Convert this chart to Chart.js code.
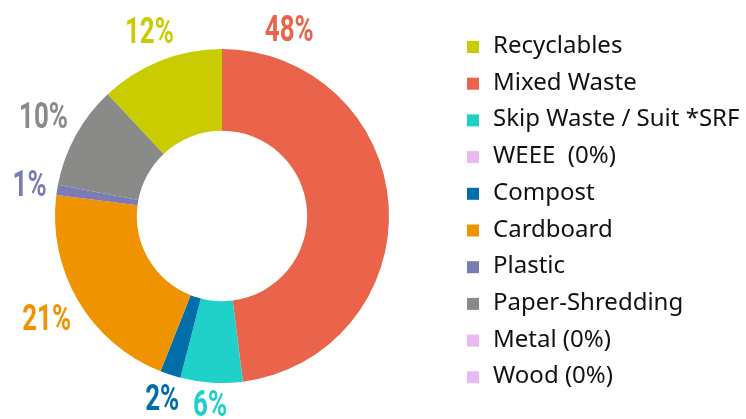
<!DOCTYPE html>
<html>
<head>
<meta charset="utf-8">
<script src="https://cdn.jsdelivr.net/npm/chart.js@4.4.1/dist/chart.umd.min.js"></script>
<style>
  html, body { margin: 0; padding: 0; background: #ffffff; }
  #dechets { display: block; }
</style>
</head>
<body>
<canvas id="dechets" width="746" height="419"></canvas>
<script>
// categories, values (%) and colours, in legend order
const categories = ["Recyclables", "Mixed Waste", "Skip Waste / Suit *SRF", "WEEE  (0%)", "Compost",
  "Cardboard", "Plastic", "Paper-Shredding", "Metal (0%)", "Wood (0%)"];
const pourcentages = [12, 48, 6, 0, 2, 21, 1, 10, 0, 0];
const couleurs = ["#c9cc00", "#e9644a", "#1fd1c8", "#e8b9f2", "#006ea8",
  "#f09300", "#7a7db3", "#8a8a88", "#e8b9f2", "#e8b9f2"];

// etiquettes des pourcentages autour de l'anneau
const etiquettes = {
  id: "etiquettes",
  afterDatasetsDraw(chart, args, opts) {
    const ctx = chart.ctx;
    const arcs = chart.getDatasetMeta(0).data;
    const valeurs = chart.data.datasets[0].data;
    ctx.save();
    ctx.font = "bold 36px Roboto";
    ctx.textAlign = "center";
    ctx.textBaseline = "middle";
    arcs.forEach((arc, i) => {
      if (!valeurs[i]) return;
      const texte = valeurs[i] + "%";
      const w = ctx.measureText(texte).width * opts.echelle;
      const h = 26;
      let angle = (arc.startAngle + arc.endAngle) / 2;
      if (opts.angles[chart.data.labels[i]] != undefined) {
        angle = opts.angles[chart.data.labels[i]] * Math.PI / 180 - Math.PI / 2;
      }
      const r = arc.outerRadius + 9 + Math.abs(Math.cos(angle)) * w / 2 + Math.abs(Math.sin(angle)) * h / 2;
      const x = arc.x + Math.cos(angle) * r;
      const y = arc.y + Math.sin(angle) * r;
      ctx.fillStyle = couleurs[i];
      ctx.save();
      ctx.translate(x, y + 1);
      ctx.scale(opts.echelle, 1);
      ctx.fillText(texte, 0, 0);
      ctx.restore();
    });
    ctx.restore();
  }
};

// legende dessinee a droite
const legende = {
  id: "legende",
  afterDraw(chart, args, opts) {
    const ctx = chart.ctx;
    ctx.save();
    ctx.font = "24px 'Noto Sans'";
    ctx.textBaseline = "alphabetic";
    ctx.textAlign = "left";
    chart.data.labels.forEach((nom, i) => {
      const base = opts.y + i * opts.pas;
      ctx.fillStyle = couleurs[i];
      ctx.fillRect(opts.x, base - 12, 12, 12);
      ctx.fillStyle = "#111111";
      ctx.fillText(nom, opts.x + 26, base);
    });
    ctx.restore();
  }
};

const config = {
  type: "doughnut",
  data: {
    labels: categories,
    datasets: [{
      data: pourcentages,
      backgroundColor: couleurs,
      borderWidth: 0
    }]
  },
  options: {
    responsive: false,
    animation: false,
    devicePixelRatio: 1,
    rotation: -43.2,
    cutout: "51%",
    layout: {
      padding: { top: 49, bottom: 36, left: 55, right: 357 }
    },
    plugins: {
      legend: { display: false },
      tooltip: { enabled: false },
      etiquettes: { echelle: 0.72, angles: { "Mixed Waste": 20 } },
      legende: { x: 467, y: 53, pas: 36.7 }
    }
  },
  plugins: [etiquettes, legende]
};

const myChart = new Chart(document.getElementById("dechets"), config);
</script>
</body>
</html>
